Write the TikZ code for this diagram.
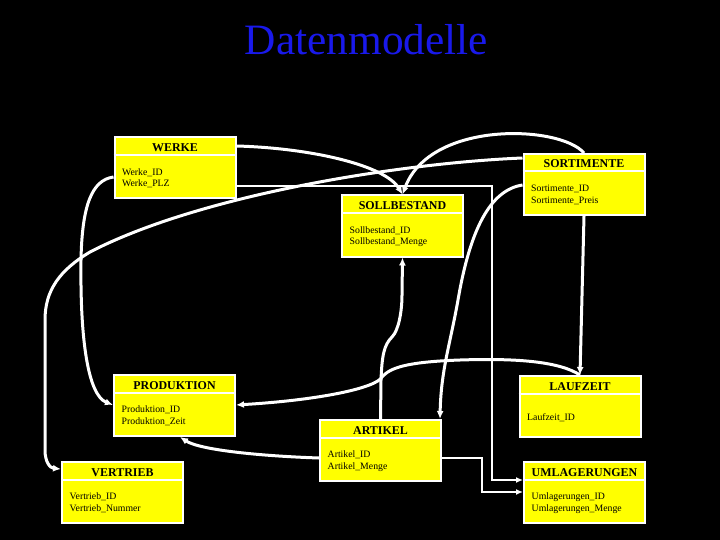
\documentclass[tikz,border=0pt]{standalone}
\usepackage{fontspec}
\setmainfont{Liberation Serif}
\usetikzlibrary{arrows.meta}
\definecolor{titleblue}{RGB}{25,25,235}
\definecolor{boxyellow}{RGB}{255,255,0}
\tikzset{
  entity/.style={rectangle, draw=white, fill=boxyellow, line width=2bp, outer sep=1bp,
    minimum width=121bp, minimum height=61bp, inner sep=0pt},
  hdr/.style={anchor=base, inner sep=0pt, font=\fontsize{12}{14}\selectfont\bfseries},
  attr/.style={anchor=north west, inner sep=0pt, align=left, font=\fontsize{9.8}{11.5}\selectfont},
  rel/.style={draw=white, line width=3bp},
  arr/.style={-{Latex[length=8bp,width=7bp]}},
  smallarr/.style={-{Latex[length=7bp,width=6bp]}},
  thinrel/.style={draw=white, line width=1.3bp},
  midrel/.style={draw=white, line width=2bp},
}
\newcommand{\erbox}[5]{%
  \node[entity] (#1) at (#2) {};
  \draw[white, line width=2bp] ([yshift=-18.5bp]#1.north west) -- ([yshift=-18.5bp]#1.north east);
  \node[hdr] (#1-t) at ([yshift=-15bp]#1.north) {#3};
  \node[attr] (#1-a) at ([xshift=8.5bp,yshift=-#5]#1.north west) {#4};
}
\begin{document}
\begin{tikzpicture}[x=1bp,y=-1bp]
\fill[black] (0,0) rectangle (720,540);
\useasboundingbox (0,0) rectangle (720,540);

\node[anchor=base, inner sep=0pt, text=titleblue, font=\fontsize{43.5}{50}\selectfont] (title) at (366.5,55) {Datenmodelle};

\erbox{werke}{175,168}{WERKE}{\strut Werke\_ID\\\strut Werke\_PLZ}{30.5bp}
\erbox{sortimente}{584,184.5}{SORTIMENTE}{\strut Sortimente\_ID\\\strut Sortimente\_Preis}{30.5bp}
\erbox{sollbestand}{402.5,226}{SOLLBESTAND}{\strut Sollbestand\_ID\\\strut Sollbestand\_Menge}{30.5bp}
\erbox{produktion}{174.5,405.5}{PRODUKTION}{\strut Produktion\_ID\\\strut Produktion\_Zeit}{30.5bp}
\erbox{vertrieb}{122.5,492.5}{VERTRIEB}{\strut Vertrieb\_ID\\\strut Vertrieb\_Nummer}{30.5bp}
\erbox{artikel}{380.5,450.5}{ARTIKEL}{\strut Artikel\_ID\\\strut Artikel\_Menge}{30.5bp}
\erbox{laufzeit}{580,406.5}{LAUFZEIT}{\strut Laufzeit\_ID}{37.6bp}
\erbox{umlagerungen}{584.5,492.5}{UMLAGERUNGEN}{\strut Umlagerungen\_ID\\\strut Umlagerungen\_Menge}{30.5bp}

% WERKE -> SOLLBESTAND
\draw[rel,arr] ([yshift=-9.5bp]werke.north east) .. controls (310,148) and (385,165) .. (sollbestand.north);
% SORTIMENTE -> SOLLBESTAND
\draw[rel,arr] (sortimente.north) .. controls (560,125) and (430,120) .. (sollbestand.north);
% WERKE -> UMLAGERUNGEN (thin)
\draw[thinrel,smallarr] ([yshift=-49.5bp]werke.north east) -| (492,300) |- ([yshift=-19bp]umlagerungen.north west);
% SORTIMENTE -> VERTRIEB
\draw[rel,arr] ([yshift=-5bp]sortimente.north west) .. controls (400,163) and (200,195) .. (90,252)
  .. controls (60,270) and (45,290) .. (45,320) -- (45,450)
  .. controls (45,462) and (50,468) .. ([yshift=-8bp]vertrieb.north west);
% WERKE -> PRODUKTION
\draw[rel,arr] ([yshift=-40.5bp]werke.north west) .. controls (92,180) and (82,205) .. (81,260)
  .. controls (80,340) and (88,395) .. ([yshift=-31bp]produktion.north west);
% SORTIMENTE -> ARTIKEL
\draw[rel,arr] ([yshift=-32bp]sortimente.north west) .. controls (490,190) and (470,230) .. (458,300)
  .. controls (450,345) and (441,370) .. ([xshift=-2bp]artikel.north east);
% ARTIKEL -> SOLLBESTAND
\draw[rel,arr] (artikel.north) -- (381,380) .. controls (382,355) and (384,345) .. (392,337)
  .. controls (399,330) and (402,310) .. (402,295) -- (sollbestand.south);
% SORTIMENTE -> LAUFZEIT
\draw[rel,arr] (sortimente.south) -- (laufzeit.north);
% LAUFZEIT -> PRODUKTION
\draw[rel,arr] (laufzeit.north) .. controls (560,362) and (520,358) .. (460,360)
  .. controls (405,362) and (390,368) .. (382,377)
  .. controls (376,388) and (320,400) .. ([yshift=-31bp]produktion.north east);
% ARTIKEL -> PRODUKTION
\draw[rel,arr] ([yshift=-39bp]artikel.north west) .. controls (260,456) and (200,450) .. ([xshift=67bp]produktion.south west);
% ARTIKEL -> UMLAGERUNGEN
\draw[midrel,smallarr] ([yshift=-39bp]artikel.north east) -| (482,475) |- ([yshift=-31bp]umlagerungen.north west);
\end{tikzpicture}
\end{document}
